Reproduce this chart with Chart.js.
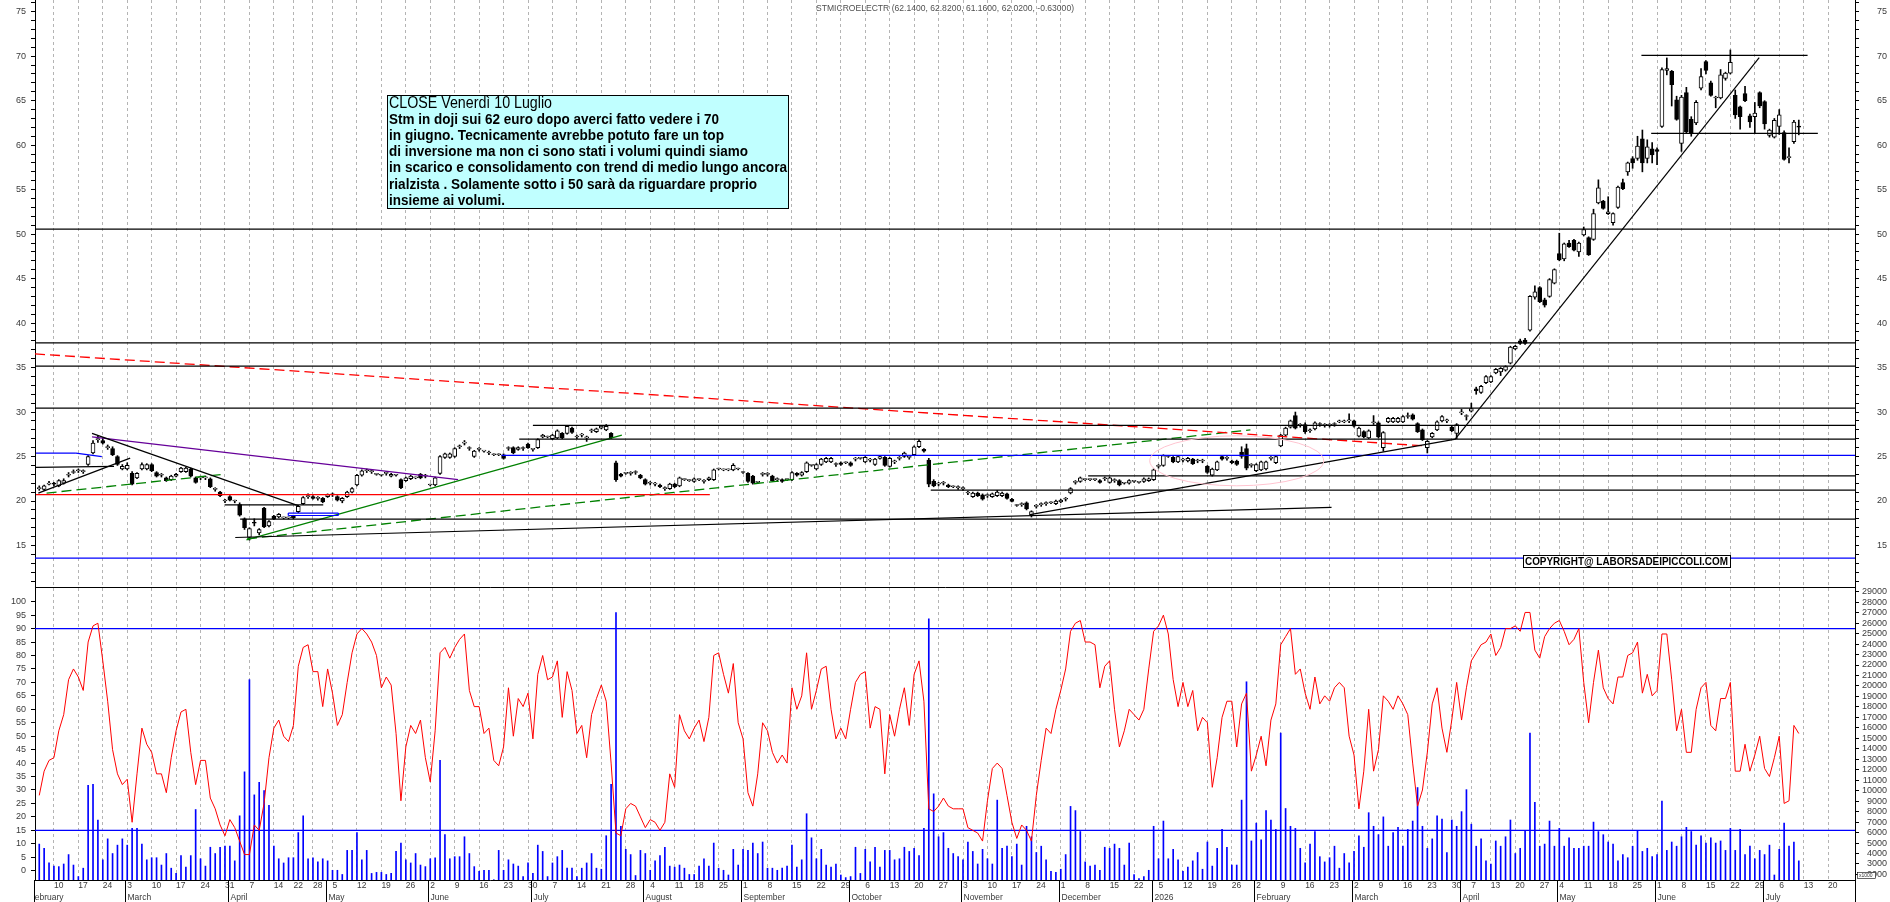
<!DOCTYPE html>
<html>
<head>
<meta charset="utf-8">
<script src="https://cdn.jsdelivr.net/npm/chart.js@4.4.1/dist/chart.umd.min.js"></script>
<style>
  html, body { margin: 0; padding: 0; background: #fff; overflow: hidden; }
  #top { position: absolute; left: 0; top: 0; }
  #bot { position: absolute; left: 0; top: 588px; }
</style>
</head>
<body>
<canvas id="top" width="1890" height="588"></canvas>
<canvas id="bot" width="1890" height="314"></canvas>
<script>
// ---- trading calendar (Borsa Italiana) ----
const holidays = ['2025-04-18','2025-04-21','2025-05-01','2025-08-15','2025-12-24','2025-12-25',
  '2025-12-26','2025-12-31','2026-01-01','2026-04-03','2026-04-06','2026-05-01'];
const skippedWeekLabels = ['2025-12-29'];   // the source chart shows no grid line for this short week
const monthNames = ['January','February','March','April','May','June','July','August',
  'September','October','November','December'];

// ---- daily candles STMicroelectronics, 5 Feb 2025 -> 10 Jul 2026 ----
const opens = [
21.4,21.3,21.9,22.0,21.7,22.0,22.9,23.2,23.4,23.3,
24.1,25.4,26.9,26.8,26.0,25.9,25.0,23.6,23.6,23.1,
22.6,23.6,23.6,24.1,23.2,22.9,22.6,22.4,22.8,23.3,
23.3,23.6,22.6,22.6,22.6,22.5,21.3,21.0,20.0,20.5,
20.0,19.6,18.0,15.9,17.6,16.4,19.2,17.2,18.3,18.2,
18.1,18.1,18.3,18.8,19.7,20.5,20.5,20.3,20.3,20.5,
20.7,20.5,20.0,20.5,21.0,21.8,22.9,23.4,23.3,23.0,
22.9,23.1,22.8,22.9,22.4,22.3,22.5,22.6,23.0,22.8,
21.8,21.8,23.1,24.9,24.9,25.0,26.1,26.5,25.9,25.0,
25.8,25.6,25.4,25.2,25.2,25.2,25.9,26.0,25.8,25.9,
26.4,25.8,26.0,27.2,27.2,27.0,27.1,27.6,27.6,28.2,
27.2,27.4,27.1,27.9,27.8,28.2,28.0,27.6,24.3,23.0,
23.1,23.1,23.2,22.9,22.4,22.0,21.9,21.8,21.4,21.4,
21.9,21.7,22.4,22.3,22.2,22.4,22.2,22.4,22.4,23.6,
23.5,23.5,23.5,23.6,23.2,23.1,22.8,22.1,23.0,23.0,
22.8,22.4,22.4,22.4,22.4,23.1,22.9,23.3,24.0,23.6,
24.1,24.4,24.4,24.1,24.3,24.3,24.3,24.7,24.8,24.4,
24.6,24.1,24.8,24.9,23.9,24.4,24.8,25.0,24.9,25.2,
26.1,25.8,24.6,22.2,21.9,22.0,21.8,21.6,21.5,21.4,
20.9,20.5,20.9,20.7,20.6,20.5,20.6,20.6,20.8,20.2,
19.5,19.6,19.8,18.4,19.4,19.6,19.7,19.8,19.7,19.9,
20.2,20.9,22.1,22.2,22.4,22.4,22.4,22.3,22.5,22.1,
22.3,22.3,22.0,22.0,22.2,22.1,22.2,22.3,22.4,23.9,
24.0,25.0,24.9,24.4,24.6,24.5,24.7,24.5,24.5,23.9,
22.9,23.5,25.0,24.8,24.5,24.5,25.5,25.9,24.0,23.4,
23.5,23.6,24.8,24.3,26.2,27.4,28.3,29.6,28.5,28.6,
27.9,28.1,28.6,28.5,28.5,28.6,28.9,28.9,29.0,29.0,
27.3,27.8,27.1,28.8,28.8,26.0,28.9,28.9,28.9,28.9,
29.5,29.7,28.7,28.0,26.0,27.2,28.0,29.0,29.0,28.3,
27.6,29.9,29.5,30.1,32.6,32.2,33.3,33.4,34.4,34.5,
34.7,35.5,37.1,38.0,38.1,39.2,42.9,44.0,42.6,43.0,
44.5,47.8,47.2,49.0,49.3,48.0,49.9,49.6,49.4,53.5,
53.7,52.3,51.3,53.0,55.8,57.0,58.5,58.5,60.7,58.5,
59.6,59.5,62.1,68.4,68.3,65.1,60.2,65.9,62.9,62.5,
66.4,69.4,67.0,65.3,65.3,67.5,68.1,65.6,64.3,65.8,
63.3,63.2,65.9,64.9,61.1,60.9,62.1,61.4,58.6,60.4,
62.14];

const highs = [
21.7,21.8,22.2,22.1,22.4,22.5,23.2,23.5,23.6,23.5,
25.1,26.8,27.3,27.1,26.3,26.1,25.1,24.1,24.3,23.3,
23.2,24.3,24.2,24.2,23.3,23.1,22.7,22.9,23.1,23.8,
23.8,23.7,22.7,22.8,22.8,22.6,21.5,21.1,20.2,20.6,
20.1,19.8,18.1,17.0,18.0,16.9,19.3,17.8,18.4,18.6,
18.2,18.2,18.4,19.5,20.5,20.8,20.6,20.5,20.4,20.8,
20.9,20.6,20.4,21.1,21.5,23.0,23.5,23.6,23.5,23.1,
23.0,23.3,23.1,23.0,22.5,22.7,22.9,22.7,23.1,23.0,
21.9,22.7,25.1,25.4,25.4,26.0,26.3,26.8,26.1,25.7,
26.0,25.7,25.6,25.3,25.3,25.3,26.1,26.1,26.1,26.1,
26.5,25.9,27.0,27.5,27.3,27.5,28.0,27.7,28.5,28.3,
27.4,27.6,27.3,28.1,28.2,28.5,28.6,27.7,24.5,23.1,
23.2,23.3,23.4,23.0,22.5,22.2,22.1,21.9,21.6,22.0,
22.0,22.7,22.5,22.4,22.6,22.5,22.4,22.7,23.6,23.7,
23.6,23.6,24.2,23.7,23.3,23.2,22.9,22.2,23.2,23.2,
22.9,22.6,22.5,22.5,23.3,23.2,23.3,24.4,24.1,24.2,
24.8,24.9,24.9,24.3,24.4,24.4,24.4,24.9,24.9,25.0,
24.8,24.8,25.1,25.0,24.9,24.6,25.0,25.5,25.1,26.2,
26.9,25.9,24.8,22.4,22.1,22.2,21.9,21.7,21.7,21.6,
21.1,21.0,21.0,20.8,20.8,20.9,21.2,21.0,20.9,20.3,
19.6,19.8,19.9,18.9,19.6,19.8,19.9,19.9,20.1,20.2,
20.4,21.5,22.3,22.7,22.5,22.5,22.5,22.4,22.7,22.7,
22.5,22.4,22.1,22.4,22.3,22.2,22.6,22.6,23.6,24.1,
25.2,25.1,25.0,25.1,24.8,24.9,24.8,24.7,24.7,24.0,
23.7,24.5,25.1,25.0,24.6,24.6,26.1,26.4,24.2,24.2,
24.5,24.5,25.0,25.1,27.5,28.3,29.1,30.0,28.7,28.8,
28.1,28.9,28.8,28.7,28.7,28.8,29.1,29.1,29.8,29.1,
28.3,27.9,28.0,29.6,28.9,27.8,29.4,29.4,29.4,29.6,
29.9,29.8,28.8,28.1,26.8,27.7,29.0,29.6,29.2,28.4,
28.7,30.3,29.7,31.0,32.8,33.0,34.1,34.1,34.9,35.0,
35.2,37.4,37.5,38.2,38.3,43.1,44.2,44.1,42.8,45.0,
46.1,50.1,49.0,49.3,49.4,49.1,50.8,49.7,52.8,56.1,
53.8,54.2,52.4,55.4,56.2,58.1,58.7,61.0,61.7,60.6,
60.3,59.7,68.7,69.8,68.4,65.5,65.6,66.5,63.2,65.0,
68.6,69.5,67.2,65.5,68.5,68.2,70.7,66.2,64.4,66.6,
63.5,64.8,66.0,65.0,61.8,63.0,64.0,61.6,59.7,62.8,
62.82];

const lows = [
21.2,21.2,21.8,21.7,21.6,21.9,22.7,23.1,23.2,23.1,
24.0,25.3,26.6,26.4,25.8,25.1,24.0,23.5,23.5,21.8,
22.5,23.5,23.5,23.3,22.7,22.7,22.2,22.3,22.7,23.2,
23.2,22.7,22.0,22.4,22.4,21.5,21.1,20.5,19.8,20.0,
19.8,18.3,16.8,15.6,17.2,16.2,17.0,17.1,17.9,18.1,
18.0,18.0,18.0,18.7,19.6,20.3,20.2,20.1,19.8,20.4,
20.5,20.0,19.8,20.4,20.9,21.7,22.8,23.2,23.1,22.9,
22.8,22.9,22.7,22.8,21.4,22.2,22.4,22.5,22.5,22.6,
21.7,21.7,23.0,24.8,24.8,24.9,25.9,26.3,25.7,24.9,
25.6,25.5,25.2,25.1,25.1,24.7,25.7,25.3,25.7,25.7,
25.9,25.6,25.9,27.1,27.1,26.9,27.0,27.0,27.5,27.6,
27.0,27.2,26.7,27.7,27.7,28.1,27.9,27.0,22.2,22.7,
23.0,22.9,23.0,22.5,21.8,21.8,21.7,21.5,21.2,21.3,
21.5,21.6,22.3,22.2,22.1,22.3,22.0,22.3,22.3,23.5,
23.4,23.4,23.4,23.5,23.1,22.1,21.9,22.0,22.8,22.8,
22.2,22.2,22.1,22.3,22.3,22.8,22.8,23.2,23.9,23.5,
24.0,24.3,24.3,23.9,24.0,24.2,23.9,24.5,24.7,24.3,
24.4,24.0,24.7,23.9,23.8,24.2,24.6,24.9,24.7,25.1,
26.0,25.5,21.6,21.6,21.7,21.8,21.5,21.5,21.3,21.2,
20.7,20.4,20.5,20.1,20.4,20.4,20.5,20.5,20.2,19.9,
19.4,19.4,19.0,18.2,19.2,19.4,19.5,19.7,19.6,19.8,
20.0,20.8,21.9,22.1,22.3,22.3,22.3,22.0,22.3,22.0,
22.1,21.7,21.9,21.9,22.1,22.0,22.1,22.2,22.3,23.7,
23.9,24.9,24.3,24.3,24.4,24.4,24.1,24.3,24.3,23.1,
22.8,23.4,24.6,24.6,24.2,24.0,24.8,23.5,23.8,23.3,
23.4,23.5,24.6,24.2,26.1,27.3,28.2,28.1,28.3,27.6,
27.7,28.0,28.4,28.3,28.3,28.4,28.8,28.8,28.8,28.3,
27.2,27.1,27.0,28.6,27.1,25.6,28.8,28.8,28.8,28.8,
29.3,29.1,27.7,26.8,25.4,27.1,27.9,28.9,28.8,27.8,
27.0,29.7,29.1,30.0,32.0,32.1,33.2,33.3,34.3,34.1,
34.6,35.4,37.0,37.6,37.6,39.1,42.7,42.3,41.8,42.9,
44.4,47.0,47.0,48.5,48.1,47.5,49.8,47.6,49.3,53.4,
52.8,52.2,51.0,52.9,55.0,56.6,57.4,58.3,57.0,58.0,
58.0,57.8,62.0,67.9,64.4,62.8,59.3,61.3,61.0,62.3,
66.2,68.0,65.5,64.2,65.2,67.3,68.0,63.0,61.8,64.9,
62.0,61.3,64.2,61.8,60.9,60.8,61.2,58.3,58.0,60.2,
61.16];

const closes = [
21.5,21.7,22.0,21.9,22.3,22.3,23.0,23.3,23.4,23.3,
25.0,26.5,26.9,26.5,26.0,25.2,24.1,23.9,24.0,21.9,
23.1,24.1,24.1,23.4,22.8,22.9,22.3,22.8,23.0,23.7,
23.7,22.8,22.1,22.6,22.6,21.6,21.3,20.6,20.0,20.1,
20.0,18.4,17.0,16.9,17.5,16.8,17.1,17.7,18.0,18.5,
18.1,18.1,18.1,19.4,20.4,20.5,20.3,20.3,19.9,20.7,
20.7,20.1,20.3,21.0,21.4,22.9,23.4,23.4,23.3,23.0,
22.9,23.1,23.0,22.9,21.5,22.6,22.8,22.6,22.6,22.8,
21.8,22.6,25.0,25.3,25.3,25.9,26.1,26.5,25.9,25.6,
25.8,25.6,25.4,25.2,25.2,24.8,25.9,25.4,26.0,25.9,
26.0,25.8,26.9,27.4,27.2,27.4,27.9,27.1,28.4,27.7,
27.2,27.4,27.1,27.9,28.1,28.4,28.4,27.1,22.4,22.8,
23.1,23.1,23.2,22.6,21.9,22.0,21.9,21.6,21.4,21.9,
21.6,22.6,22.4,22.3,22.5,22.4,22.2,22.6,23.5,23.6,
23.5,23.5,24.0,23.6,23.2,22.2,22.0,22.1,23.0,23.0,
22.3,22.4,22.2,22.4,23.2,22.9,23.2,24.3,24.0,24.1,
24.7,24.8,24.8,24.1,24.1,24.3,24.0,24.7,24.8,24.9,
24.6,24.7,25.0,24.0,24.8,24.4,24.8,25.4,24.9,26.1,
26.7,25.6,21.9,21.7,21.9,22.0,21.6,21.6,21.5,21.4,
20.9,20.9,20.6,20.2,20.6,20.8,21.0,20.9,20.3,19.95,
19.5,19.6,19.1,18.8,19.4,19.6,19.7,19.8,20.0,20.1,
20.2,21.4,22.1,22.6,22.4,22.4,22.4,22.1,22.5,22.6,
22.3,21.8,22.0,22.3,22.2,22.1,22.5,22.5,23.5,23.9,
25.1,25.0,24.4,25.0,24.6,24.8,24.2,24.5,24.5,23.2,
23.6,24.4,24.7,24.8,24.3,24.1,25.0,23.7,24.0,24.1,
24.4,24.4,24.8,25.0,27.4,28.2,29.0,28.2,28.5,27.8,
27.9,28.8,28.6,28.5,28.5,28.6,28.9,28.9,29.0,28.4,
28.2,27.2,27.9,28.8,27.2,27.7,29.3,29.3,29.3,29.5,
29.5,29.2,27.8,26.9,26.7,27.6,28.9,29.5,29.0,27.9,
28.6,29.9,29.5,30.4,32.4,32.9,34.0,34.0,34.8,34.9,
35.1,37.3,37.4,37.7,37.7,43.0,43.5,42.4,42.0,44.9,
46.0,47.1,48.9,48.6,48.2,49.0,50.5,47.7,52.3,55.2,
52.9,52.5,52.3,55.3,55.1,58.0,58.0,59.9,58.0,59.8,
58.9,59.3,68.5,68.6,66.8,62.9,65.4,61.5,61.4,64.8,
67.7,68.4,65.6,65.3,67.9,68.1,69.3,63.4,63.2,65.0,
62.6,63.6,64.4,62.4,61.7,62.8,63.4,58.4,58.6,62.6,
62.02];

// oscillator (0-100)
const oscillator = [
28,37,41,42,52,58,71,75,72,67,
85,91,92,78,63,45,36,32,34,18,
36,53,47,44,36,36,29,42,52,59,
60,44,32,41,41,27,23,17,13,19,
16,11,6,6,17,15,25,42,53,56,
50,48,54,76,83,84,74,74,61,75,
66,54,58,70,81,88,90,88,85,80,
68,72,69,51,26,46,54,51,56,42,
33,52,81,83,79,83,86,88,67,61,
61,51,53,41,39,46,68,50,64,61,
66,49,73,80,71,72,78,57,74,67,
51,54,42,58,64,69,63,40,14,13,
23,25,24,20,16,19,18,15,18,36,
31,58,52,49,53,56,48,57,80,81,
73,66,77,55,49,29,24,36,55,52,
44,40,43,40,68,60,65,81,60,67,
75,76,60,49,53,49,60,70,73,74,
53,61,60,36,58,50,60,68,54,73,
78,63,23,22,24,27,24,23,23,23,
16,15,14,11,26,38,40,38,28,18,
12,17,15,11,28,41,53,51,60,67,
75,89,92,93,85,85,84,68,76,78,
60,46,52,60,58,56,60,75,89,91,
95,88,71,61,70,61,67,52,57,55,
31,42,57,63,63,46,62,66,37,43,
50,39,56,62,84,87,90,73,75,66,
60,72,62,65,63,68,70,68,50,43,
23,37,60,37,45,65,63,60,65,62,
58,40,24,30,44,62,68,53,44,56,
70,56,68,78,81,84,85,88,80,83,
90,90,91,89,96,96,82,79,87,90,
92,93,89,84,86,90,70,55,70,82,
68,64,62,72,72,80,81,85,66,73,
65,67,88,88,71,52,60,44,44,60,
68,70,54,52,64,64,70,37,37,47,
37,43,50,38,35,42,50,25,26,54,
51];

// volume, thousands of shares
const volume = [
4.9,4.5,3.1,2.8,2.75,3.0,3.9,2.9,1.8,2.6,
10.5,10.6,7.2,3.4,5.4,4.0,4.8,5.4,4.8,6.4,
6.4,4.9,3.4,3.6,3.6,2.9,4.0,2.6,2.1,3.8,
2.7,3.8,8.2,3.5,2.8,4.6,4.0,4.6,4.7,4.7,
3.3,7.6,11.8,20.6,9.6,10.8,10.0,8.6,4.7,3.5,
3.1,3.6,3.6,6.0,7.6,3.5,3.6,3.2,3.5,3.3,
2.4,2.4,2.0,4.3,4.3,6.0,3.4,4.3,2.1,2.2,
2.2,2.0,2.1,4.2,5.0,3.4,3.1,4.0,2.9,2.75,
3.5,3.6,12.9,5.8,3.5,3.7,3.7,5.6,4.0,2.75,
2.3,2.4,2.4,1.5,4.3,2.4,3.4,3.0,2.8,1.8,
3.1,2.1,4.8,4.2,1.8,3.1,3.7,4.3,2.6,2.6,
1.8,2.6,3.1,4.0,2.6,2.5,5.7,10.6,27.0,6.6,
4.4,3.9,1.9,4.3,4.0,2.4,3.3,3.8,4.6,2.8,
2.7,2.9,2.6,2.0,2.0,2.8,3.5,2.8,5.0,2.6,
2.4,1.95,4.4,2.9,4.4,4.3,5.0,4.0,5.1,2.6,
2.6,2.4,2.6,2.8,4.8,2.7,3.4,7.8,5.5,3.5,
4.4,2.9,2.7,3.0,1.95,1.7,1.8,4.6,2.1,4.4,
3.2,4.6,2.7,4.3,4.3,3.4,3.5,4.6,4.2,4.5,
3.8,6.4,26.4,9.7,5.6,6.0,4.5,4.0,3.7,3.4,
5.1,4.2,3.0,4.4,3.5,3.0,9.1,4.5,4.7,3.7,
4.9,2.9,6.6,5.6,4.1,4.7,3.4,2.3,2.2,2.5,
3.9,8.5,8.1,6.1,3.2,2.8,2.9,2.4,4.6,4.5,
4.9,4.5,2.9,5.0,2.0,1.6,1.8,2.4,6.6,3.5,
7.1,3.5,4.4,3.4,2.3,2.7,3.3,4.1,2.5,5.1,
2.8,4.5,6.3,4.6,2.9,2.9,9.1,20.4,5.2,6.9,
5.3,8.1,7.2,6.3,15.5,8.3,6.6,6.4,4.5,3.1,
4.9,6.1,3.7,3.2,3.6,4.7,2.6,4.0,3.1,4.2,
5.7,4.6,7.9,6.6,5.8,7.5,4.7,6.0,6.5,4.7,
6.3,7.1,10.3,6.6,4.5,5.4,7.6,7.3,4.1,7.2,
6.6,8.0,10.1,6.8,4.7,5.4,3.3,3.0,5.2,4.7,
5.6,7.2,4.0,4.5,6.2,15.5,8.9,4.7,4.9,7.1,
4.7,6.4,4.7,5.5,4.5,4.5,4.7,4.7,7.0,6.1,
5.8,5.1,4.9,3.3,3.9,3.6,4.7,6.2,4.2,4.5,
3.7,3.9,9.0,4.3,5.1,4.7,5.6,6.5,6.1,4.8,
5.7,5.0,5.5,5.0,5.2,4.3,6.4,4.3,6.3,3.9,
4.7,3.5,4.3,3.9,4.8,1.95,4.4,6.9,4.7,5.1,
3.3];

// tick labels
const priceLabels = [15,20,25,30,35,40,45,50,55,60,65,70,75];
const oscLabels = [0,5,10,15,20,25,30,35,40,45,50,55,60,65,70,75,80,85,90,95,100];
const volLabels = [2,3,4,5,6,7,8,9,10,11,12,13,14,15,16,17,18,19,20,21,22,23,24,25,26,27,28,29];

// drawn studies: [fromIndex, fromPrice, toIndex, toPrice]
const X_MIN = -0.87, X_MAX = 371.5;
const blackLines = [
  [X_MIN,50.55,X_MAX,50.55],[X_MIN,37.78,X_MAX,37.78],[X_MIN,35.16,X_MAX,35.16],[X_MIN,30.44,X_MAX,30.44],
  [101.0,28.5,X_MAX,28.5],[98.2,26.95,X_MAX,26.95],[214.6,22.83,X_MAX,22.83],[182.4,21.22,X_MAX,21.22],
  [41.1,17.97,X_MAX,17.97],[38.0,19.57,58.1,19.57],[-0.66,23.77,15.3,23.9],
  [-0.2,20.88,18.6,24.82],[10.8,27.6,53.1,19.46],[40.1,15.9,264.4,19.29],
  [202.7,18.48,289.8,26.96],[289.7,26.96,351.9,69.83],[327.8,70.1,361.8,70.1],[329.8,61.33,363.9,61.33]
];
const blueLines = [
  [94.6,25.12,X_MAX,25.12],[X_MIN,13.58,X_MAX,13.58],[-0.66,25.38,7.5,25.38],[7.5,25.38,12.8,25.0],
  [50.95,18.64,61.2,18.64],[50.95,18.37,61.2,18.37],[50.95,18.37,50.95,18.64],[61.2,18.37,61.2,18.64]
];
const redLines = [[-0.66,20.72,137.2,20.72]];
const redDashedLines = [[X_MIN,36.54,283.3,26.2]];
const greenLines = [[42.4,15.64,119.2,27.4]];
const greenDashedLines = [[1.5,20.89,38.0,23.02],[42.5,15.75,247.8,28.0]];
const purpleLines = [[10.8,27.2,85.7,22.4]];
const oscLevels = [90, 15];

// ---- build calendar ----
const dates = [];
for (let t = Date.UTC(2025, 1, 5); t <= Date.UTC(2026, 6, 31); t += 86400000) {
  const d = new Date(t);
  const wd = d.getUTCDay();
  if (wd === 0 || wd === 6) continue;
  if (holidays.includes(d.toISOString().slice(0, 10))) continue;
  dates.push(d);
}
const weekTicks = [];
const monthStarts = [-2];   // February 2025 starts before the first bar
for (let i = 1; i < dates.length && i <= X_MAX; i++) {
  const key = dates[i].toISOString().slice(0, 10);
  if (dates[i].getUTCDay() <= dates[i - 1].getUTCDay() && i < X_MAX - 2 && !skippedWeekLabels.includes(key)) {
    weekTicks.push(i);
  }
  if (dates[i].getUTCMonth() !== dates[i - 1].getUTCMonth()) monthStarts.push(i);
}
const monthLabel = i => {
  if (i < 0) return 'February';
  const m = dates[i].getUTCMonth();
  return m === 0 ? String(dates[i].getUTCFullYear()) : monthNames[m];
};

// ---- styling helpers ----
const FONT = "'Liberation Sans', Arial, sans-serif";
const TXT = '#3a3a3a';
const GRID = '#b4b4b4';
const P_MIN = 10.335, P_MAX = 76.315;

const fitY = w => s => { s.width = w; s.paddingTop = 0; s.paddingBottom = 0; };
const fitX = h => s => { s.height = h; s.paddingLeft = 0; s.paddingRight = 0; };

function segs(list, color, dash, width, axis) {
  return list.map(([x1, y1, x2, y2]) => ({
    type: 'line',
    data: [{ x: x1, y: y1 }, { x: x2, y: y2 }],
    borderColor: color, borderWidth: width || 1, borderDash: dash || [],
    pointRadius: 0, fill: false, tension: 0, order: 0, yAxisID: axis || 'y'
  }));
}

function xScale(showLabels) {
  return {
    type: 'linear', min: X_MIN, max: X_MAX, offset: false,
    afterBuildTicks: s => { s.ticks = weekTicks.map(v => ({ value: v })); },
    ticks: showLabels ? {
      display: true, autoSkip: false, maxRotation: 0, minRotation: 0, align: 'start', padding: 1,
      font: { family: FONT, size: 8.5 }, color: TXT,
      callback: v => String(dates[v].getUTCDate())
    } : { display: false },
    grid: { color: GRID, lineWidth: 1, offset: false, drawTicks: false },
    border: { display: true, color: '#000', width: 1, dash: [3, 3] },
    afterFit: fitX(showLabels ? 22 : 1)
  };
}

function yScale(pos, min, max, values, label, width) {
  return {
    position: pos, min: min, max: max, display: true,
    afterBuildTicks: s => { s.ticks = values.map(v => ({ value: v })); },
    ticks: {
      autoSkip: false, padding: 5, font: { family: FONT, size: 9 }, color: TXT,
      crossAlign: pos === 'right' ? 'far' : 'near', callback: label
    },
    grid: { drawOnChartArea: false, tickLength: 4, tickColor: '#000' },
    border: { display: true, color: '#000', width: 1 },
    afterFit: fitY(width)
  };
}

function fitText(ctx, text, x, y, w) {
  const m = ctx.measureText(text).width;
  ctx.save();
  ctx.translate(x, y);
  ctx.scale(w / m, 1);
  ctx.fillText(text, 0, 0);
  ctx.restore();
}

// ---- top panel: price ----
const idx = opens.map((_, i) => i);
const minorPrice = [];
for (let v = 11; v <= 76; v++) minorPrice.push(v);

const noteLines = [
  'CLOSE Venerdì 10 Luglio',
  'Stm in doji sui 62 euro dopo averci fatto vedere i 70',
  'in giugno. Tecnicamente avrebbe potuto fare un top',
  'di inversione ma non ci sono stati i volumi quindi siamo',
  'in scarico e consolidamento con trend di medio lungo ancora',
  'rialzista . Solamente sotto i 50 sarà da riguardare proprio',
  'insieme ai volumi.'
];
const noteWidths = [163, 330, 335, 359, 398, 368, 116];
const noteY = [103.5, 119.5, 135.8, 151.8, 168.3, 184.5, 200.5];

const topNotes = {
  id: 'topNotes',
  afterDatasetsDraw(chart) {
    const ctx = chart.ctx, xs = chart.scales.x, ys = chart.scales.y;
    ctx.save();
    // pink ellipse around the February-March 2026 consolidation
    const cx = xs.getPixelForValue(245), cy = ys.getPixelForValue(24.52);
    const rx = xs.getPixelForValue(262.8) - cx, ry = ys.getPixelForValue(21.71) - cy;
    ctx.beginPath();
    ctx.ellipse(cx, cy, rx, ry, 0, 0, Math.PI * 2);
    ctx.strokeStyle = '#ffc4d0';
    ctx.lineWidth = 1;
    ctx.stroke();

    // title
    ctx.fillStyle = '#505050';
    ctx.textBaseline = 'middle';
    ctx.font = '9px ' + FONT;
    fitText(ctx, 'STMICROELECTR (62.1400, 62.8200, 61.1600, 62.0200, -0.63000)', 816, 8.5, 258);

    // comment box
    ctx.fillStyle = '#c0ffff';
    ctx.fillRect(387.5, 95.5, 401, 113);
    ctx.strokeStyle = '#000';
    ctx.strokeRect(387.5, 95.5, 401, 113);
    ctx.fillStyle = '#000';
    noteLines.forEach((t, i) => {
      ctx.font = (i === 0 ? '16px ' : 'bold 15px ') + "'Liberation Sans Narrow', 'Liberation Sans', Arial, sans-serif";
      fitText(ctx, t, 389, noteY[i], noteWidths[i]);
    });

    // copyright
    ctx.fillStyle = '#fff';
    ctx.fillRect(1523.5, 555.5, 207, 12);
    ctx.strokeRect(1523.5, 555.5, 207, 12);
    ctx.fillStyle = '#000';
    ctx.font = 'bold 11px ' + FONT;
    fitText(ctx, 'COPYRIGHT@ LABORSADEIPICCOLI.COM', 1525, 562, 203);
    ctx.restore();
  }
};

new Chart(document.getElementById('top'), {
  type: 'bar',
  data: {
    datasets: [
      ...segs(blackLines, '#000000', [], 1.2),
      ...segs(blueLines, '#0000ff', [], 1.2),
      ...segs(redLines, '#ff0000', [], 1.2),
      ...segs(redDashedLines, '#ff0000', [10, 5], 1.3),
      ...segs(greenLines, '#008000', [], 1.2),
      ...segs(greenDashedLines, '#008000', [10, 5], 1.3),
      ...segs(purpleLines, '#660099', [], 1.2),
      {
        type: 'bar', label: 'body', order: 1, grouped: false, yAxisID: 'y',
        data: idx.map(i => ({ x: i, y: [Math.min(opens[i], closes[i]), Math.max(opens[i], closes[i])] })),
        backgroundColor: c => closes[c.dataIndex] >= opens[c.dataIndex] ? '#ffffff' : '#000000',
        borderColor: '#000000', borderWidth: 1, borderSkipped: false,
        barThickness: 4, minBarLength: 1
      },
      {
        type: 'bar', label: 'wick', order: 2, grouped: false, yAxisID: 'y',
        data: idx.map(i => ({ x: i, y: [lows[i], highs[i]] })),
        backgroundColor: '#000000', borderWidth: 0, barThickness: 1
      }
    ]
  },
  options: {
    responsive: false, animation: false, devicePixelRatio: 1, events: [],
    layout: { padding: { left: 0, right: 3, top: 0, bottom: 0 }, autoPadding: false },
    plugins: { legend: { display: false }, tooltip: { enabled: false } },
    scales: {
      x: xScale(false),
      y: yScale('left', P_MIN, P_MAX, minorPrice, v => priceLabels.includes(v) ? String(v) : '', 35),
      y2: yScale('right', P_MIN, P_MAX, minorPrice, v => priceLabels.includes(v) ? String(v) : '', 32)
    }
  },
  plugins: [topNotes]
});

// ---- bottom panel: oscillator + volume ----
const bottomAxis = {
  id: 'bottomAxis',
  afterDraw(chart) {
    const ctx = chart.ctx, xs = chart.scales.x, area = chart.chartArea;
    ctx.save();
    ctx.strokeStyle = '#000';
    ctx.lineWidth = 1;
    ctx.beginPath();
    ctx.moveTo(area.left - 0.5, area.bottom); ctx.lineTo(area.left - 0.5, 314);
    ctx.moveTo(area.right + 0.5, area.bottom); ctx.lineTo(area.right + 0.5, 314);
    ctx.stroke();
    ctx.beginPath();
    ctx.rect(area.left, area.bottom, area.right - area.left, 22);
    ctx.clip();
    ctx.fillStyle = TXT;
    ctx.font = '8.5px ' + FONT;
    ctx.textBaseline = 'middle';
    ctx.textAlign = 'left';
    monthStarts.forEach(m => {
      const px = Math.round(xs.getPixelForValue(m)) - 1.5;
      ctx.beginPath();
      ctx.moveTo(px, area.bottom);
      ctx.lineTo(px, 314);
      ctx.stroke();
      ctx.fillText(monthLabel(m), px + 2, 309.5);
    });
    ctx.restore();
    // units box on the volume axis
    ctx.save();
    ctx.fillStyle = '#fff';
    ctx.fillRect(1857.5, 284.5, 18, 6);
    ctx.strokeStyle = '#000';
    ctx.lineWidth = 0.6;
    ctx.strokeRect(1857.5, 284.5, 18, 6);
    ctx.fillStyle = '#333';
    ctx.font = '5px ' + FONT;
    ctx.textBaseline = 'middle';
    ctx.fillText('x1000', 1859, 287.8);
    ctx.restore();
  }
};

new Chart(document.getElementById('bot'), {
  type: 'bar',
  data: {
    datasets: [
      {
        type: 'line', label: 'osc', order: 0, yAxisID: 'yO',
        data: idx.map(i => ({ x: i, y: oscillator[i] })),
        borderColor: '#ff0000', borderWidth: 1, pointRadius: 0, tension: 0, fill: false
      },
      ...oscLevels.map(v => ({
        type: 'line', order: 1, yAxisID: 'yO',
        data: [{ x: X_MIN, y: v }, { x: X_MAX, y: v }],
        borderColor: '#0000ff', borderWidth: 1.2, pointRadius: 0, fill: false
      })),
      {
        type: 'bar', label: 'volume', order: 2, grouped: false, yAxisID: 'yV',
        data: idx.map(i => ({ x: i, y: volume[i] })),
        backgroundColor: '#0000ff', borderWidth: 0, barThickness: 1
      }
    ]
  },
  options: {
    responsive: false, animation: false, devicePixelRatio: 1, events: [],
    layout: { padding: { left: 0, right: 3, top: 0, bottom: 0 }, autoPadding: false },
    plugins: { legend: { display: false }, tooltip: { enabled: false } },
    scales: {
      x: xScale(true),
      yO: yScale('left', -3.46, 105.09, oscLabels, v => String(v), 35),
      yV: yScale('right', 1.472, 29.353, volLabels, v => String(v * 1000), 32)
    }
  },
  plugins: [bottomAxis]
});
</script>
</body>
</html>
